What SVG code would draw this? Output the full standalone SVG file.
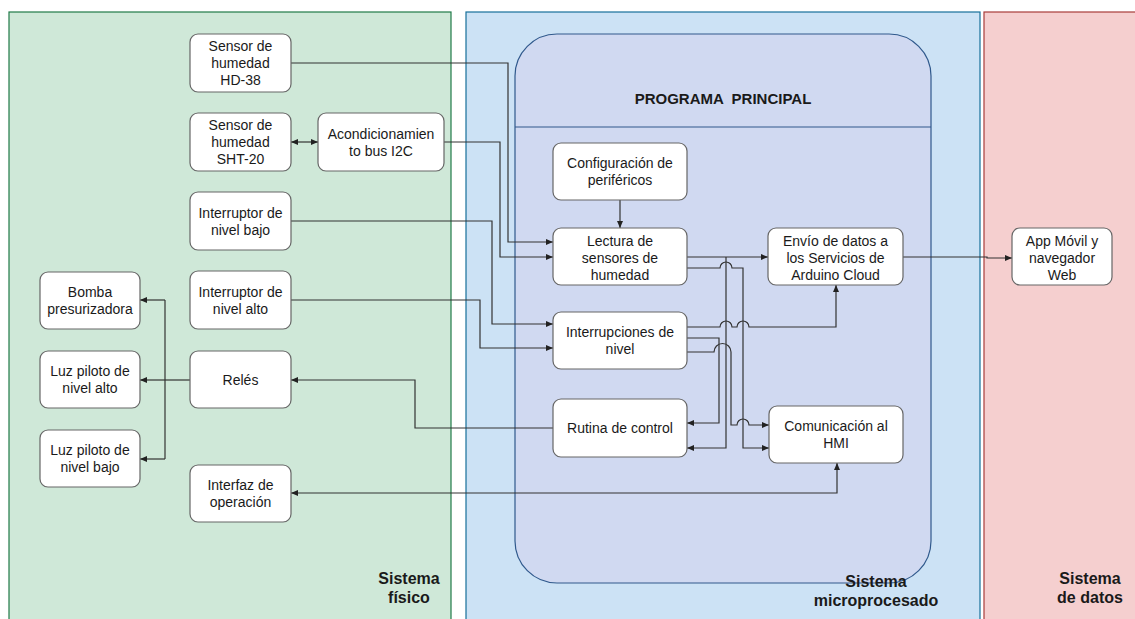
<svg xmlns="http://www.w3.org/2000/svg" width="1135" height="619" viewBox="0 0 1135 619">
<style>
.node rect{fill:#ffffff;stroke:#666666;stroke-width:1.2}
.node text{font-family:"Liberation Sans",Arial,sans-serif;font-size:14px;fill:#1a1a1a;text-anchor:middle}
.lbl{font-family:"Liberation Sans",Arial,sans-serif;font-size:16px;font-weight:bold;fill:#1a1a1a;text-anchor:middle}
.title{font-family:"Liberation Sans",Arial,sans-serif;font-size:15px;font-weight:bold;fill:#1a1a1a;text-anchor:middle;white-space:pre}
#connectors path{fill:none;stroke:#333333;stroke-width:1.2}
.a{marker-end:url(#arr)}
.b{marker-start:url(#arr);marker-end:url(#arr)}
</style>
<defs>
<marker id="arr" markerUnits="userSpaceOnUse" markerWidth="8" markerHeight="8" refX="7" refY="3" orient="auto-start-reverse">
<path d="M0,0 L7,3 L0,6 Z" fill="#222222"/>
</marker>
</defs>
<rect width="1135" height="619" fill="#ffffff"/>
<g id="containers">
<rect x="9" y="12" width="442" height="620" fill="#cfe8d8" stroke="#207a48" stroke-width="1.2"/>
<rect x="466" y="12" width="514" height="620" fill="#cce2f5" stroke="#17709a" stroke-width="1.2"/>
<rect x="984" y="12" width="160" height="620" fill="#f5cfcf" stroke="#a83c3a" stroke-width="1.2"/>
<rect x="515" y="34" width="416" height="549" rx="42" ry="42" fill="#d0d9f1" stroke="#30598c" stroke-width="1.2"/>
<line x1="515" y1="127" x2="931" y2="127" stroke="#30598c" stroke-width="1.2"/>
<text class="title" x="723" y="104">PROGRAMA  PRINCIPAL</text>
<text class="lbl" x="409" y="584">Sistema</text>
<text class="lbl" x="409" y="603">físico</text>
<text class="lbl" x="876" y="587">Sistema</text>
<text class="lbl" x="876" y="606">microprocesado</text>
<text class="lbl" x="1090" y="584">Sistema</text>
<text class="lbl" x="1090" y="603">de datos</text>
</g>
<g id="connectors">
<path class="a" d="M291,63 H508 V242 H553"/>
<path class="b" d="M291,142 H318"/>
<path class="a" d="M444,142 H500 V257 H553"/>
<path class="a" d="M291,221 H492 V324 H553"/>
<path class="a" d="M291,300 H480 V348 H553"/>
<path class="a" d="M620,200 V228"/>
<path class="a" d="M687,257 H768"/>
<path class="a" d="M726,257 V448 H687"/>
<path class="a" d="M687,268 H720 A6,6 0 0 1 732,268 H743 V448 H769"/>
<path class="a" d="M687,327 H720 A6,6 0 0 1 732,327 H737 A6,6 0 0 1 749,327 H836 V285"/>
<path class="a" d="M687,338 H719 V423 H687"/>
<path class="a" d="M687,352 H714 A8.5,8.5 0 0 1 731,352 V425 H737 A6,6 0 0 1 749,425 H769"/>
<path class="a" d="M553,428 H415 V380 H291"/>
<path d="M191,380 H165"/>
<path class="a" d="M165,300 H140"/>
<path class="a" d="M165,380 H140"/>
<path class="a" d="M165,459 H140"/>
<path d="M165,300 V459"/>
<path class="a" d="M903,257 H987 V258 H1012"/>
<path class="b" d="M837,463 V493 H291"/>
</g>
<g id="n_hd38" class="node"><rect x="190" y="34" width="101" height="58" rx="8"/><text x="240.5" y="51">Sensor de</text><text x="240.5" y="68">humedad</text><text x="240.5" y="85">HD-38</text></g>
<g id="n_sht20" class="node"><rect x="190" y="113" width="101" height="58" rx="8"/><text x="240.5" y="130">Sensor de</text><text x="240.5" y="147">humedad</text><text x="240.5" y="164">SHT-20</text></g>
<g id="n_acond" class="node"><rect x="318" y="113" width="126" height="58" rx="8"/><text x="381" y="138.5">Acondicionamien</text><text x="381" y="155.5">to bus I2C</text></g>
<g id="n_intbajo" class="node"><rect x="190" y="192" width="101" height="58" rx="8"/><text x="240.5" y="217.5">Interruptor de</text><text x="240.5" y="234.5">nivel bajo</text></g>
<g id="n_intalto" class="node"><rect x="190" y="271" width="101" height="58" rx="8"/><text x="240.5" y="296.5">Interruptor de</text><text x="240.5" y="313.5">nivel alto</text></g>
<g id="n_reles" class="node"><rect x="190" y="351" width="101" height="57" rx="8"/><text x="240.5" y="384.5">Relés</text></g>
<g id="n_interfaz" class="node"><rect x="190" y="465" width="101" height="57" rx="8"/><text x="240.5" y="489.5">Interfaz de</text><text x="240.5" y="506.5">operación</text></g>
<g id="n_bomba" class="node"><rect x="40" y="272" width="100" height="57" rx="8"/><text x="90" y="296.5">Bomba</text><text x="90" y="313.5">presurizadora</text></g>
<g id="n_luzalto" class="node"><rect x="40" y="351" width="100" height="57" rx="8"/><text x="90" y="375.5">Luz piloto de</text><text x="90" y="392.5">nivel alto</text></g>
<g id="n_luzbajo" class="node"><rect x="40" y="430" width="100" height="57" rx="8"/><text x="90" y="454.5">Luz piloto de</text><text x="90" y="471.5">nivel bajo</text></g>
<g id="n_config" class="node"><rect x="553" y="143" width="134" height="57" rx="8"/><text x="620" y="167.5">Configuración de</text><text x="620" y="184.5">periféricos</text></g>
<g id="n_lectura" class="node"><rect x="553" y="228" width="134" height="57" rx="8"/><text x="620" y="245.5">Lectura de</text><text x="620" y="262.5">sensores de</text><text x="620" y="279.5">humedad</text></g>
<g id="n_interr" class="node"><rect x="553" y="312" width="134" height="57" rx="8"/><text x="620" y="336.5">Interrupciones de</text><text x="620" y="353.5">nivel</text></g>
<g id="n_rutina" class="node"><rect x="553" y="399" width="134" height="58" rx="8"/><text x="620" y="433">Rutina de control</text></g>
<g id="n_envio" class="node"><rect x="768" y="228" width="135" height="57" rx="8"/><text x="835.5" y="245.5">Envío de datos a</text><text x="835.5" y="262.5">los Servicios de</text><text x="835.5" y="279.5">Arduino Cloud</text></g>
<g id="n_hmi" class="node"><rect x="769" y="406" width="134" height="57" rx="8"/><text x="836" y="430.5">Comunicación al</text><text x="836" y="447.5">HMI</text></g>
<g id="n_app" class="node"><rect x="1012" y="228" width="100" height="57" rx="8"/><text x="1062" y="245.5">App Móvil y</text><text x="1062" y="262.5">navegador</text><text x="1062" y="279.5">Web</text></g>
</svg>
